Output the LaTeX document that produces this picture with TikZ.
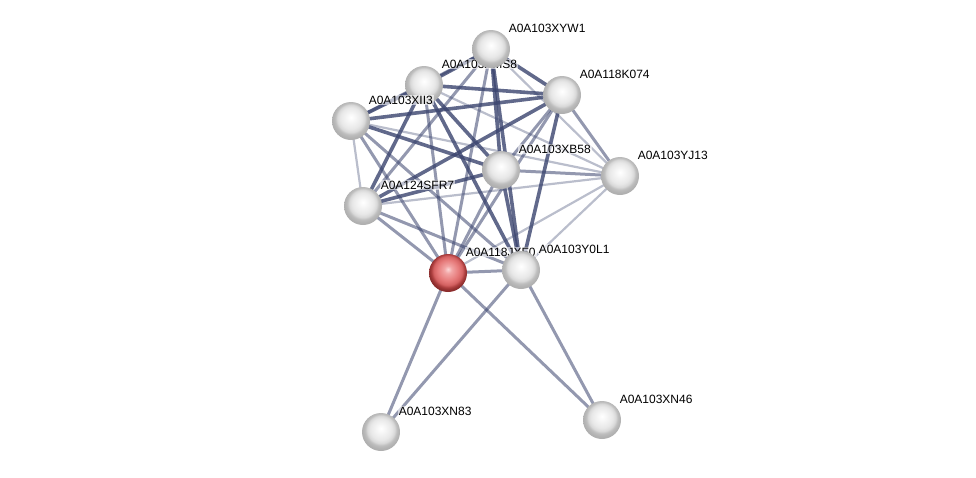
\documentclass[tikz,border=0pt]{standalone}
\usepackage{fontspec}
\setmainfont{Liberation Sans}
\usetikzlibrary{backgrounds}
\definecolor{edgeblue}{RGB}{58,68,110}
\pgfdeclareradialshading{protball}{\pgfpoint{0bp}{5bp}}{color(0bp)=(white); color(5bp)=(gray!6);
  color(14bp)=(gray!18); color(18bp)=(gray!30); color(21bp)=(gray!52); color(25bp)=(gray!62); color(50bp)=(gray!62)}
\pgfdeclareradialshading{queryball}{\pgfpoint{0bp}{5bp}}{color(0bp)=(rgb,255:red,252;green,215;blue,215);
  color(5bp)=(rgb,255:red,242;green,165;blue,165); color(14bp)=(rgb,255:red,230;green,122;blue,122);
  color(19bp)=(rgb,255:red,212;green,98;blue,98); color(22bp)=(rgb,255:red,172;green,62;blue,62);
  color(25bp)=(rgb,255:red,140;green,45;blue,45); color(50bp)=(rgb,255:red,140;green,45;blue,45)}
\tikzset{
  prot/.style={circle, minimum size=38pt, inner sep=0pt, shading=protball},
  query/.style={prot, shading=queryball},
  tag/.style={font=\fontsize{12}{12}\selectfont, fill=white, fill opacity=0.6, text opacity=1, inner sep=1pt, xshift=3pt, yshift=2pt},
  strongedge/.style={draw=edgeblue, line width=3.6pt, opacity=0.8},
  midedge/.style={draw=edgeblue, line width=3pt, opacity=0.55},
  weakedge/.style={draw=edgeblue, line width=2.2pt, opacity=0.35}
}
\begin{document}
\begin{tikzpicture}[x=1pt, y=-1pt]
  \useasboundingbox (0,0) rectangle (976,477);
  \node[prot, label={[tag]above right:A0A103XMS8}] (x8) at (424,85) {};
  \node[prot, label={[tag]above right:A0A103XYW1}] (xyw1) at (491,49) {};
  \node[prot, label={[tag]above right:A0A103XII3}] (xii3) at (351,121) {};
  \node[prot, label={[tag]above right:A0A118K074}] (k074) at (562,95) {};
  \node[prot, label={[tag]above right:A0A103XB58}] (xb58) at (501,170) {};
  \node[prot, label={[tag]above right:A0A103YJ13}] (yj13) at (620,176) {};
  \node[prot, label={[tag]above right:A0A124SFR7}] (sfr7) at (363,206) {};
  \node[query, label={[tag]above right:A0A118JXF0}] (jxf0) at (448,273) {};
  \node[prot, label={[tag]above right:A0A103Y0L1}] (y0l1) at (521,270) {};
  \node[prot, label={[tag]above right:A0A103XN83}] (xn83) at (381,432) {};
  \node[prot, label={[tag]above right:A0A103XN46}] (xn46) at (602,420) {};
  \begin{pgfonlayer}{background}
    \foreach \a/\b/\s in {xyw1/x8/strongedge, xyw1/k074/strongedge, xyw1/xii3/midedge,
        xyw1/xb58/strongedge, xyw1/y0l1/strongedge, xyw1/jxf0/midedge, xyw1/sfr7/midedge,
        xyw1/yj13/weakedge, x8/k074/strongedge, x8/xii3/strongedge, x8/xb58/strongedge,
        x8/y0l1/strongedge, x8/jxf0/midedge, x8/sfr7/strongedge, x8/yj13/weakedge,
        k074/xii3/strongedge, k074/xb58/midedge, k074/yj13/midedge, k074/sfr7/strongedge,
        k074/jxf0/midedge, k074/y0l1/strongedge, xii3/xb58/strongedge, xii3/yj13/weakedge,
        xii3/sfr7/weakedge, xii3/jxf0/midedge, xii3/y0l1/midedge, xb58/yj13/midedge,
        xb58/sfr7/strongedge, xb58/jxf0/midedge, xb58/y0l1/strongedge, yj13/sfr7/weakedge,
        yj13/jxf0/weakedge, yj13/y0l1/weakedge, sfr7/jxf0/midedge, sfr7/y0l1/midedge,
        jxf0/y0l1/midedge, jxf0/xn83/midedge, jxf0/xn46/midedge, y0l1/xn83/midedge,
        y0l1/xn46/midedge}
      \draw[\s] (\a.center) -- (\b.center);
  \end{pgfonlayer}
\end{tikzpicture}
\end{document}
